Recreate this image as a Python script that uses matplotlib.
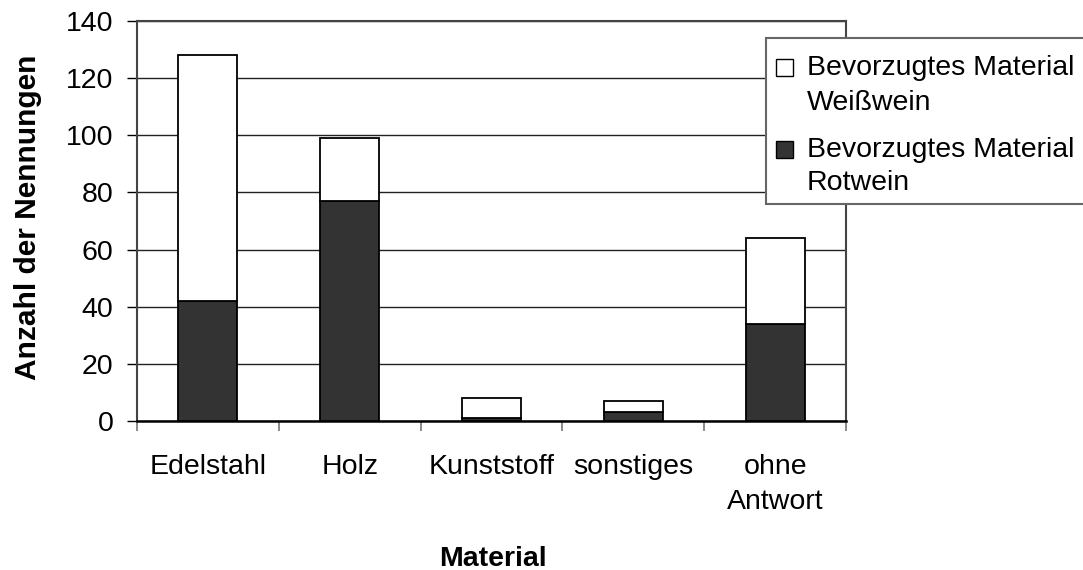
import matplotlib
matplotlib.use("Agg")
import matplotlib.pyplot as plt
from matplotlib.patches import Rectangle
import numpy as np

categories = ["Edelstahl", "Holz", "Kunststoff", "sonstiges", "ohne\nAntwort"]
rotwein = [42, 77, 1, 3, 34]
weisswein = [86, 22, 7, 4, 30]
series_labels = ["Bevorzugtes Material\nWeißwein", "Bevorzugtes Material\nRotwein"]
yticks = [0, 20, 40, 60, 80, 100, 120, 140]

W, H = 1083, 570
plt.rcParams['font.family'] = ['Liberation Sans', 'DejaVu Sans']
FS = 20.5

fig = plt.figure(figsize=(W / 100, H / 100), dpi=100)
ax = fig.add_axes([137 / W, 1 - 421 / H, (846 - 137) / W, (421 - 21) / H])

x = np.arange(len(categories))
dark = "#333333"
b1 = ax.bar(x, rotwein, width=0.416, color=dark, edgecolor="black", linewidth=1.3, zorder=3)
b2 = ax.bar(x, weisswein, bottom=rotwein, width=0.416, color="white", edgecolor="black", linewidth=1.3, zorder=3)

ax.set_xlim(-0.5, len(categories) - 0.5)
ax.set_ylim(0, 140)
ax.set_yticks(yticks)
ax.set_yticklabels([str(v) for v in yticks], fontsize=FS)
ax.tick_params(axis='y', direction='out', length=7, width=1, color='black', pad=10)
ax.yaxis.grid(True, color='#222222', linewidth=1.0, zorder=0)
ax.set_axisbelow(True)

ax.set_xticks(np.arange(-0.5, len(categories)), minor=False)
ax.set_xticklabels([])
ax.set_xticks(x, minor=True)
ax.set_xticklabels(categories, minor=True, fontsize=FS, linespacing=1.45)
ax.tick_params(axis='x', which='major', direction='out', length=7, width=1.2, color='#777777')
ax.tick_params(axis='x', which='minor', length=0, pad=24)

for s in ['left', 'right', 'top']:
    ax.spines[s].set_color('#444444')
    ax.spines[s].set_linewidth(1.5)
ax.spines['bottom'].set_color('black')
ax.spines['bottom'].set_linewidth(1.8)

fig.text(28 / W, 1 - 217 / H, "Anzahl der Nennungen", rotation=90, ha='center', va='center',
         fontsize=21.5, fontweight='bold')
fig.text(493 / W, 1 - 566 / H, "Material", ha='center', va='baseline', fontsize=FS, fontweight='bold')

# legend overlay in pixel coordinates
lax = fig.add_axes([0, 0, 1, 1], zorder=10)
lax.set_xlim(0, W)
lax.set_ylim(H, 0)
lax.axis('off')
lax.patch.set_alpha(0)
lax.add_patch(Rectangle((766, 38), 330, 166, facecolor='white', edgecolor='#666666', linewidth=1.5))
entries = [(b2, series_labels[0], 75, 110), (b1, series_labels[1], 157, 190)]
for bars, lab, y1, y2 in entries:
    fc = bars.patches[0].get_facecolor()
    lax.add_patch(Rectangle((776, y1 - 16), 17, 17, facecolor=fc, edgecolor='black', linewidth=1.0))
    l1, l2 = lab.split("\n")
    lax.text(807, y1, l1, fontsize=FS, va='baseline', ha='left')
    lax.text(807, y2, l2, fontsize=FS, va='baseline', ha='left')

fig.savefig("out.png", dpi=100)
